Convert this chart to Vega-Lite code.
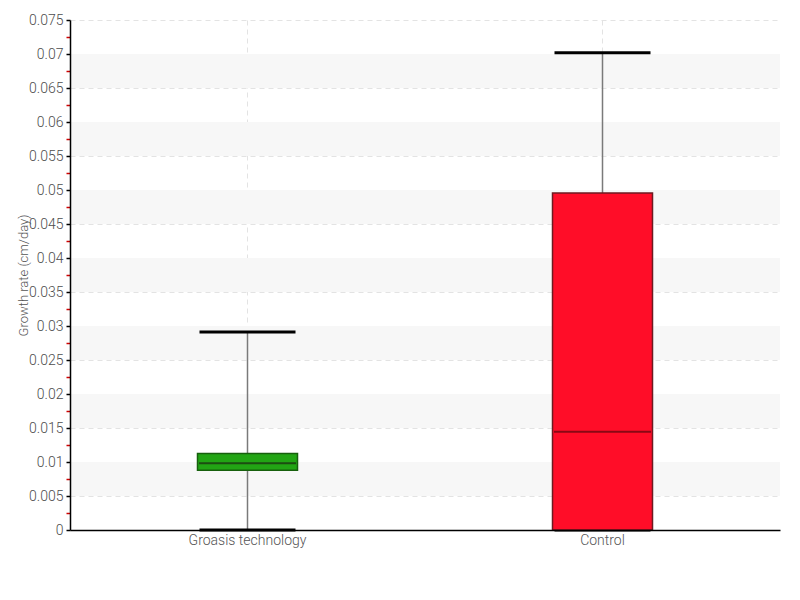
{
  "$schema": "https://vega.github.io/schema/vega-lite/v6.json",
  "width": 710,
  "height": 510,
  "autosize": {"type": "none"},
  "padding": {"left": 70, "top": 20, "right": 20, "bottom": 70},
  "background": "white",
  "config": {
    "view": {"stroke": null},
    "font": "Roboto, sans-serif"
  },
  "datasets": {
    "boxes": [
      {"group": "Groasis technology", "min": 0.0, "q1": 0.0088, "median": 0.0098, "q3": 0.01125, "max": 0.0291},
      {"group": "Control", "min": 0.0, "q1": 0.0, "median": 0.01445, "q3": 0.04955, "max": 0.0702}
    ],
    "bands": [
      {"lo": 0.005, "hi": 0.01},
      {"lo": 0.015, "hi": 0.02},
      {"lo": 0.025, "hi": 0.03},
      {"lo": 0.035, "hi": 0.04},
      {"lo": 0.045, "hi": 0.05},
      {"lo": 0.055, "hi": 0.06},
      {"lo": 0.065, "hi": 0.07}
    ]
  },
  "layer": [
    {
      "data": {"name": "bands"},
      "mark": {"type": "rect", "fill": "#f7f7f7"},
      "encoding": {
        "y": {
          "field": "lo",
          "type": "quantitative",
          "scale": {"domain": [0, 0.075], "nice": false, "zero": true},
          "axis": {
            "orient": "left",
            "title": null,
            "labels": false,
            "ticks": false,
            "domain": false,
            "values": [0, 0.005, 0.01, 0.015, 0.02, 0.025, 0.03, 0.035, 0.04, 0.045, 0.05, 0.055, 0.06, 0.065, 0.07, 0.075],
            "grid": true,
            "gridDash": [5, 4],
            "gridColor": "#e3e3e3",
            "gridWidth": 1,
            "zindex": 0
          }
        },
        "y2": {"field": "hi"}
      }
    },
    {
      "data": {"name": "boxes"},
      "mark": {"type": "rule", "color": "#7a7a7a", "strokeWidth": 1.5},
      "encoding": {
        "x": {
          "field": "group",
          "type": "nominal",
          "sort": ["Groasis technology", "Control"],
          "scale": {"paddingInner": 0, "paddingOuter": 0},
          "axis": {
            "orient": "bottom",
            "title": null,
            "labels": false,
            "ticks": false,
            "domain": false,
            "grid": true,
            "gridDash": [5, 4],
            "gridColor": "#e3e3e3",
            "gridWidth": 1,
            "zindex": 0
          }
        },
        "y": {"field": "min", "type": "quantitative", "axis": null},
        "y2": {"field": "max"}
      }
    },
    {
      "data": {"name": "boxes"},
      "mark": {"type": "tick", "orient": "horizontal", "color": "#000000", "size": 96, "thickness": 3, "opacity": 1},
      "encoding": {
        "x": {
          "field": "group",
          "type": "nominal",
          "sort": ["Groasis technology", "Control"],
          "axis": {
            "orient": "bottom",
            "title": null,
            "labelAngle": 0,
            "domainColor": "#000000",
            "domainWidth": 1.5,
            "ticks": false,
            "labelPadding": 3,
            "labelFontSize": 14,
            "labelFontWeight": 300,
            "labelColor": "#555555",
            "grid": false,
            "zindex": 1
          }
        },
        "y": {
          "field": "max",
          "type": "quantitative",
          "axis": {
            "orient": "left",
            "title": "Growth rate (cm/day)",
            "titleFontSize": 13,
            "titleFontWeight": 300,
            "titleColor": "#555555",
            "titleX": -47,
            "titleY": 255,
            "titleAngle": -90,
            "titleAlign": "center",
            "titleBaseline": "middle",
            "values": [0, 0.0025, 0.005, 0.0075, 0.01, 0.0125, 0.015, 0.0175, 0.02, 0.0225, 0.025, 0.0275, 0.03, 0.0325, 0.035, 0.0375, 0.04, 0.0425, 0.045, 0.0475, 0.05, 0.0525, 0.055, 0.0575, 0.06, 0.0625, 0.065, 0.0675, 0.07, 0.0725, 0.075],
            "labelExpr": "round(datum.value*400) % 2 === 0 ? format(datum.value, '') : ''",
            "labelOverlap": false,
            "labelFontSize": 14,
            "labelFontWeight": 300,
            "labelColor": "#4d4d4d",
            "labelPadding": 3,
            "domainColor": "#000000",
            "domainWidth": 1.5,
            "tickColor": {"condition": {"test": "round(datum.value*400) % 2 === 0", "value": "#000000"}, "value": "#cc0000"},
            "tickSize": 4,
            "tickWidth": 1.5,
            "grid": false,
            "zindex": 1
          }
        }
      }
    },
    {
      "data": {"name": "boxes"},
      "mark": {"type": "tick", "orient": "horizontal", "color": "#000000", "size": 96, "thickness": 3, "opacity": 1},
      "encoding": {
        "x": {"field": "group", "type": "nominal", "sort": ["Groasis technology", "Control"], "axis": null},
        "y": {"field": "min", "type": "quantitative", "axis": null}
      }
    },
    {
      "data": {"name": "boxes"},
      "mark": {"type": "bar", "size": 100, "strokeWidth": 1.5, "opacity": 1},
      "encoding": {
        "x": {"field": "group", "type": "nominal", "sort": ["Groasis technology", "Control"], "axis": null},
        "y": {"field": "q1", "type": "quantitative", "axis": null},
        "y2": {"field": "q3"},
        "fill": {"field": "group", "type": "nominal", "scale": {"domain": ["Groasis technology", "Control"], "range": ["#22a514", "#ff0d28"]}, "legend": null},
        "stroke": {"field": "group", "type": "nominal", "scale": {"domain": ["Groasis technology", "Control"], "range": ["#17600d", "#6e1a20"]}, "legend": null}
      }
    },
    {
      "data": {"name": "boxes"},
      "mark": {"type": "tick", "orient": "horizontal", "size": 97, "thickness": 2, "opacity": 1},
      "encoding": {
        "x": {"field": "group", "type": "nominal", "sort": ["Groasis technology", "Control"], "axis": null},
        "y": {"field": "median", "type": "quantitative", "axis": null},
        "color": {"field": "group", "type": "nominal", "scale": {"domain": ["Groasis technology", "Control"], "range": ["#1d4d12", "#8a0814"]}, "legend": null}
      }
    }
  ],
  "resolve": {
    "scale": {"color": "independent", "fill": "independent", "stroke": "independent"},
    "axis": {"x": "independent", "y": "independent"}
  }
}
